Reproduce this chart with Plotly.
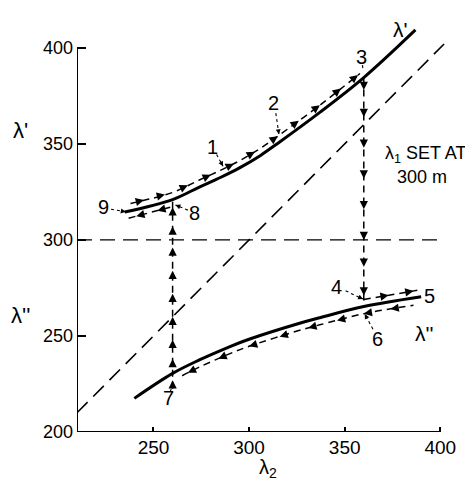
import numpy as np
import plotly.graph_objects as go

# ---- data ----
upper_x = [235, 260, 274, 285, 295, 306, 316, 337, 360, 387]          # lambda_2
upper_y = [314.5, 321, 327.5, 332.5, 337.5, 344, 351, 366.4, 384.5, 409.3]  # lambda'
lower_x = [240, 260, 274, 290, 300, 326, 337, 360, 390]
lower_y = [217.5, 230.5, 237.5, 244.5, 248.3, 256.5, 259.5, 265.3, 270.4]  # lambda''
diag_x = [210, 402]
diag_y = [210, 402]
ref_x = [210, 400]
ref_y = [300, 300]
lambda1 = 300
jump_high = 360   # lambda_2 where the jump 3 -> 4 occurs
jump_low = 260    # lambda_2 where the jump 7 -> 8 occurs

# arrow positions along the paths (lambda_2 or lambda values)
up_fwd_arrows = [245, 256, 268, 280, 292, 303, 315, 326, 337, 348, 357]
up_back_arrows = [241, 252]
down_arrows = [378, 364, 348, 332, 316, 300, 286, 271]
low_fwd_arrows = [373, 386]
low_back_arrows = [374, 360, 346, 331, 316, 300, 284, 268]
up_vert_arrows = [227, 238, 248, 260, 272, 284, 296, 307, 317]

x_ticks = [250, 300, 350, 400]
y_ticks = [200, 250, 300, 350, 400]

FONT = "Liberation Sans, Arial, sans-serif"
OFF = 3.7  # vertical offset of the path lines from the curves

fu = lambda x: float(np.interp(x, upper_x, upper_y))
fl = lambda x: float(np.interp(x, lower_x, lower_y))

fig = go.Figure()

def line(x, y, width=3, dash=None, shape="spline"):
    fig.add_trace(go.Scatter(x=x, y=y, mode="lines", hoverinfo="skip",
                             line=dict(color="black", width=width, dash=dash, shape=shape),
                             showlegend=False))

# reference lines
line(diag_x, diag_y, width=1.6, dash="15px,8px", shape="linear")
line(ref_x, ref_y, width=1.4, dash="15px,8px", shape="linear")

# curves
line(upper_x, upper_y, width=3)
line(lower_x, lower_y, width=3)

# offset paths
def path(f, x0, x1, xs, sign):
    px = [x0] + [v for v in xs if x0 < v < x1] + [x1]
    py = [f(v) + sign * OFF for v in px]
    line(px, py, width=1.5, dash="7px,5px")

path(fu, 238, 358, upper_x, +1)      # 9 -> 3
path(fu, 237, 260, upper_x, -1)      # 8 -> 9
path(fl, 360, 388, lower_x, +1)      # 4 -> 5
path(fl, 265, 386, lower_x, -1)      # 5 -> 7

# vertical jumps
line([jump_high, jump_high], [fu(jump_high), fl(jump_high)], width=1.5, dash="7px,5px", shape="linear")
line([jump_low, jump_low], [fl(jump_low) - 8, fu(jump_low)], width=1.5, dash="7px,5px", shape="linear")

annotations = []

def arrow(xt, yt, xs, ys, size=1.1, width=1.5):
    annotations.append(dict(x=xt, y=yt, ax=xs, ay=ys, xref="x", yref="y",
                            axref="x", ayref="y", text="", showarrow=True,
                            arrowhead=2, arrowsize=size, arrowwidth=width,
                            arrowcolor="black", standoff=0, startstandoff=0))

for p in up_fwd_arrows:
    arrow(p, fu(p) + OFF, p - 2, fu(p - 2) + OFF)
for p in up_back_arrows:
    arrow(p, fu(p) - OFF, p + 2, fu(p + 2) - OFF)
for p in low_fwd_arrows:
    arrow(p, fl(p) + OFF, p - 2, fl(p - 2) + OFF)
for p in low_back_arrows:
    arrow(p, fl(p) - OFF, p + 2, fl(p + 2) - OFF)
for v in down_arrows:
    arrow(jump_high, v, jump_high, v + 2)
for v in up_vert_arrows:
    arrow(jump_low, v, jump_low, v - 2)

# numbered points: (text, text x, text y, leader start x, y, tip x, y)
labels = [
    ("1", 281.0, 348.5, 283.0, 344.5, 286.4, 338.3),
    ("2", 313.0, 371.5, 314.0, 366.0, 315.6, 355.0),
    ("3", 359.0, 395.0, 359.3, 391.0, 359.6, 388.5),
    ("4", 345.5, 275.5, 350.5, 273.5, 359.6, 269.2),
    ("6", 367.0, 248.4, 364.8, 253.5, 360.5, 261.4),
    ("7", 257.6, 217.7, 258.8, 221.0, 259.8, 224.0),
    ("8", 271.2, 314.0, 268.0, 315.5, 261.5, 318.2),
    ("9", 224.0, 317.0, 227.8, 316.0, 235.5, 314.6),
]
for t, tx, ty, sx, sy, ex, ey in labels:
    annotations.append(dict(x=tx, y=ty, xref="x", yref="y", text=t, showarrow=False,
                            font=dict(size=20, family=FONT, color="black")))
    line([sx, ex], [sy, ey], width=1.1, dash="dot", shape="linear")
    dx, dy = ex - sx, ey - sy
    arrow(ex, ey, ex - 0.25 * dx, ey - 0.25 * dy, size=0.9, width=1.1)

annotations.append(dict(x=394.6, y=270.8, xref="x", yref="y", text="5", showarrow=False,
                        font=dict(size=20, family=FONT, color="black")))

# curve names and other texts
def txt(x, y, s, size=21, xref="x", yref="y"):
    annotations.append(dict(x=x, y=y, xref=xref, yref=yref, text=s, showarrow=False,
                            xanchor="center", yanchor="middle",
                            font=dict(size=size, family=FONT, color="black")))

txt(379, 409.5, "λ'")
txt(391.5, 251.5, "λ''")
txt(392.4, 344.3, "λ<sub>1</sub> SET AT", size=18)
txt(390.3, 332.8, f"{lambda1} m", size=18)
# axis titles (paper coordinates, outside the plotting area)
txt(0.518, -0.088, "λ<sub>2</sub>", size=20, xref="paper", yref="paper")
txt(-0.152, 0.729, "λ'", size=22, xref="paper", yref="paper")
txt(-0.152, 0.281, "λ''", size=22, xref="paper", yref="paper")

shapes = [
    dict(type="line", xref="x", yref="y", x0=210, y0=200, x1=210, y1=400,
         line=dict(color="black", width=2)),
    dict(type="line", xref="x", yref="y", x0=210, y0=200, x1=400, y1=200,
         line=dict(color="black", width=2)),
]

fig.update_layout(
    width=465, height=474, autosize=False,
    margin=dict(l=69, r=27, t=11, b=50, pad=0),
    paper_bgcolor="white", plot_bgcolor="white",
    annotations=annotations, shapes=shapes, showlegend=False,
    xaxis=dict(range=[210, 403], showgrid=False, zeroline=False, showline=False,
               tickvals=x_ticks, ticks="inside", ticklen=5, tickwidth=1.5,
               tickcolor="black", ticklabelstandoff=2,
               tickfont=dict(size=19, family=FONT, color="black")),
    yaxis=dict(range=[200, 415], showgrid=False, zeroline=False, showline=False,
               tickvals=y_ticks, ticks="inside", ticklen=9, tickwidth=1.8,
               tickcolor="black", ticklabelstandoff=3,
               tickfont=dict(size=18, family=FONT, color="black")),
)

fig.write_html("out.html")
